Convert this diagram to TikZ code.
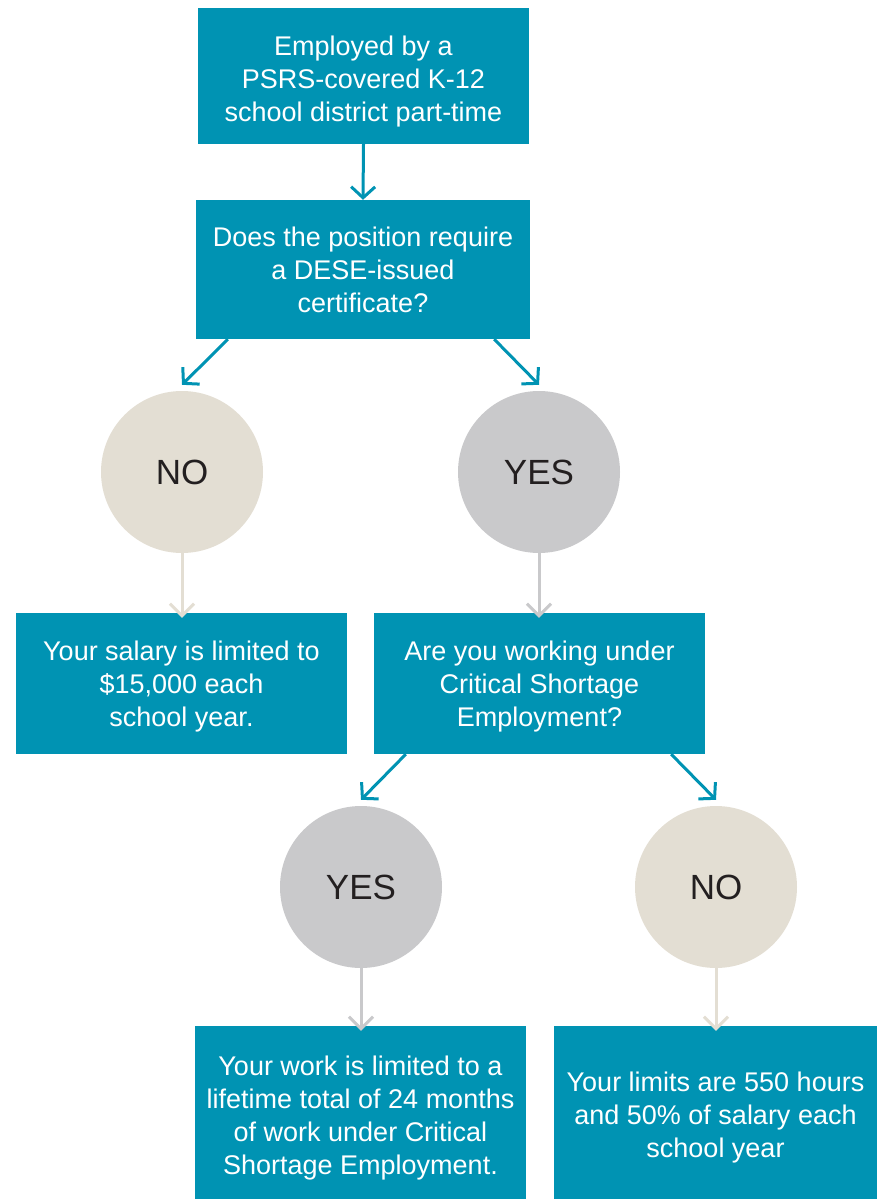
\documentclass[tikz,border=0pt]{standalone}
\usepackage{fontspec}
\setmainfont{Liberation Sans}
\usetikzlibrary{arrows.meta,calc}
\definecolor{teal}{HTML}{0093B3}
\definecolor{beige}{HTML}{E3DED3}
\definecolor{lgray}{HTML}{C9C9CB}
\definecolor{txtdark}{HTML}{231F20}
\begin{document}
\begin{tikzpicture}[x=1pt,y=-1pt,
  box/.style={fill=teal,draw=none,inner sep=0pt},
  boxtext/.style={text=white,align=center,inner sep=0pt,yshift=-4pt,
    font=\fontsize{27}{33}\selectfont},
  circ/.style={circle,draw=none,minimum size=162pt,inner sep=0pt,text=txtdark,
    font=\fontsize{35}{40}\selectfont},
  tarrow/.style={draw=teal,line width=3pt,-{Straight Barb[length=11pt,width=24pt,line width=3pt]}},
  garrow/.style={line width=3pt,-{Straight Barb[length=12pt,width=24pt,line width=3pt]}}]
\useasboundingbox (0,0) rectangle (877,1199);
\node[box,minimum width=331pt,minimum height=136pt,
  label={[boxtext,yshift=-2pt]center:{Employed by a\\PSRS-covered K-12\\school district part-time}}] (b1) at (363.5,76) {};
\node[box,minimum width=334pt,minimum height=139pt,
  label={[boxtext,yshift=4pt]center:{Does the position require\\a DESE-issued\\certificate?}}] (b2) at (363,269.5) {};
\node[circ,fill=beige] (c1) at (182,472) {NO};
\node[circ,fill=lgray] (c2) at (539,472) {YES};
\node[box,minimum width=331pt,minimum height=141pt,
  label={[boxtext,yshift=1pt]center:{Your salary is limited to\\\$15,000 each\\school year.}}] (b3) at (181.5,683.5) {};
\node[box,minimum width=331pt,minimum height=141pt,
  label={[boxtext,yshift=1pt]center:{Are you working under\\Critical Shortage\\Employment?}}] (b4) at (539.5,683.5) {};
\node[circ,fill=lgray] (c3) at (361,887) {YES};
\node[circ,fill=beige] (c4) at (716,887) {NO};
\node[box,minimum width=331pt,minimum height=173pt,
  label={[boxtext,yshift=-2pt]center:{Your work is limited to a\\lifetime total of 24 months\\of work under Critical\\Shortage Employment.}}] (b5) at (360.5,1112.5) {};
\node[box,minimum width=323pt,minimum height=173pt,
  label={[boxtext,yshift=-1pt]center:{Your limits are 550 hours\\and 50\% of salary each\\school year}}] (b6) at (715.5,1112.5) {};
\draw[tarrow] (b1.south) -- (b2.north);
\draw[tarrow] ([xshift=32pt]b2.south west) -- ([yshift=6pt]c1.north);
\draw[tarrow] ([xshift=-36pt]b2.south east) -- ([yshift=6pt]c2.north);
\draw[tarrow] ([xshift=32pt]b4.south west) -- ([yshift=6pt]c3.north);
\draw[tarrow] ([xshift=-34pt]b4.south east) -- ([yshift=6pt]c4.north);
\draw[garrow,draw=beige] (c1.south) -- ($(c1.south |- b3.north)+(0,-5pt)$);
\draw[garrow,draw=lgray] (c2.south) -- ($(c2.south |- b4.north)+(0,-5pt)$);
\draw[garrow,draw=lgray] (c3.south) -- ($(c3.south |- b5.north)+(0,-5pt)$);
\draw[garrow,draw=beige] (c4.south) -- ($(c4.south |- b6.north)+(0,-5pt)$);
\end{tikzpicture}
\end{document}
